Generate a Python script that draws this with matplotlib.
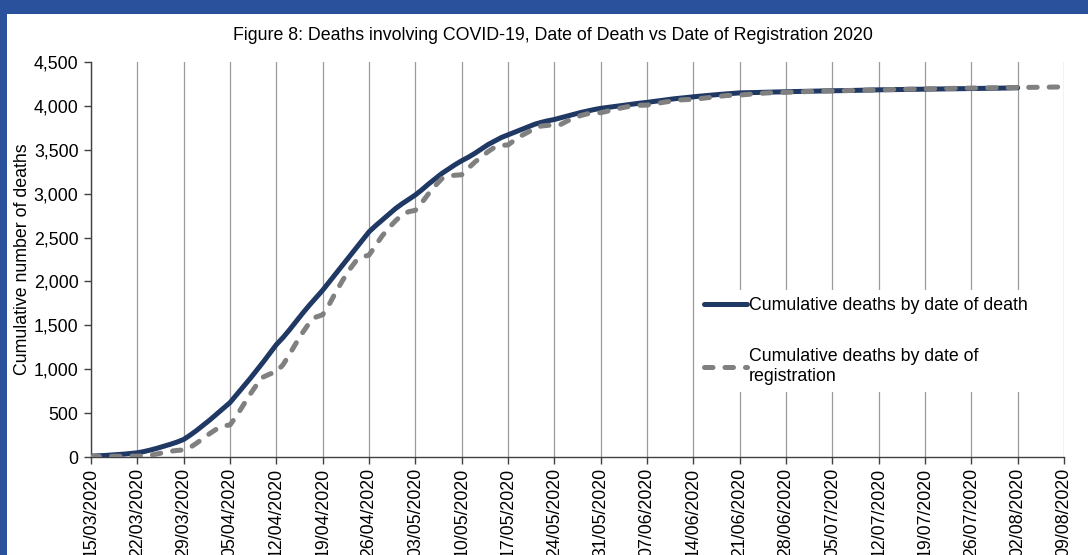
import numpy as np
import matplotlib
matplotlib.use("Agg")
import matplotlib.pyplot as plt
import matplotlib.dates as mdates
from matplotlib.patches import Rectangle

plt.rcParams['font.family'] = ['Liberation Sans', 'DejaVu Sans']

# Daily cumulative deaths, starting 15/03/2020
start = np.datetime64('2020-03-15')

deaths_by_occurrence = [
    10, 13, 17, 22, 27, 33, 40, 48,
    62, 80, 100, 122, 145, 170, 200,
    250, 305, 365, 425, 490, 555, 620,
    710, 800, 890, 985, 1080, 1180, 1280,
    1360, 1450, 1545, 1640, 1730, 1815, 1900,
    1995, 2090, 2185, 2280, 2375, 2470, 2565,
    2635, 2700, 2765, 2830, 2885, 2935, 2985,
    3045, 3110, 3170, 3230, 3280, 3330, 3375,
    3415, 3460, 3510, 3560, 3600, 3640, 3670,
    3700, 3730, 3760, 3790, 3812, 3830, 3845,
    3865, 3885, 3905, 3925, 3942, 3958, 3972,
    3982, 3992, 4003, 4013, 4022, 4032, 4040,
    4050, 4060, 4070, 4080, 4088, 4096, 4104,
    4111, 4118, 4125, 4131, 4137, 4143, 4148,
    4150, 4152, 4154, 4156, 4158, 4159, 4161,
    4163, 4164, 4166, 4168, 4169, 4171, 4172,
    4173, 4175, 4176, 4178, 4179, 4181, 4183,
    4184, 4185, 4186, 4187, 4188, 4189, 4190,
    4191, 4192, 4194, 4195, 4196, 4197, 4198,
    4199, 4200, 4201, 4202, 4203, 4205, 4206,
]

deaths_by_registration = [
    5, 6, 7, 8, 9, 10, 10, 10,
    12, 20, 35, 50, 65, 75, 80,
    110, 160, 215, 270, 320, 355, 365,
    470, 590, 710, 820, 910, 945, 970,
    1050, 1170, 1300, 1420, 1530, 1595, 1620,
    1740, 1880, 2010, 2130, 2230, 2280, 2300,
    2410, 2520, 2610, 2690, 2760, 2795, 2810,
    2900, 3000, 3090, 3170, 3200, 3210, 3215,
    3290, 3360, 3420, 3480, 3530, 3550, 3555,
    3610, 3660, 3700, 3740, 3770, 3778, 3782,
    3790, 3830, 3860, 3890, 3910, 3918, 3922,
    3940, 3958, 3975, 3990, 4002, 4007, 4009,
    4022, 4035, 4047, 4058, 4068, 4072, 4074,
    4083, 4093, 4102, 4110, 4118, 4121, 4123,
    4130, 4136, 4142, 4147, 4151, 4153, 4154,
    4157, 4160, 4163, 4166, 4168, 4169, 4170,
    4172, 4174, 4176, 4178, 4180, 4181, 4182,
    4184, 4186, 4188, 4190, 4191, 4192, 4192,
    4194, 4196, 4198, 4200, 4201, 4202, 4202,
    4204, 4206, 4207, 4208, 4209, 4210, 4210,
    4211, 4212, 4213, 4214, 4215, 4215, 4215,
]

label_death = 'Cumulative deaths by date of death'
label_reg = 'Cumulative deaths by date of\nregistration'
title = 'Figure 8: Deaths involving COVID-19, Date of Death vs Date of Registration 2020'

dates_occ = start + np.arange(len(deaths_by_occurrence))
dates_reg = start + np.arange(len(deaths_by_registration))
week_ticks = np.arange(start, np.datetime64('2020-08-16'), 7)

fig = plt.figure(figsize=(10.88, 5.55), dpi=100, facecolor='#2A519B')
# white panel inside the blue frame, kept behind the axes
panel = Rectangle((7 / 1088, 0), 1, 1 - 14 / 555, transform=fig.transFigure,
                  facecolor='white', edgecolor='none')
panel.set_zorder(-10)
fig.add_artist(panel)

ax = fig.add_axes([91 / 1088, 1 - 457 / 555, 973 / 1088, 395 / 555])
ax.set_zorder(1)
ax.set_facecolor('white')

ax.plot(dates_occ, deaths_by_occurrence, color='#1F3864', lw=3.6,
        solid_capstyle='round', label=label_death, zorder=3)
ax.plot(dates_reg, deaths_by_registration, color='#808080', lw=3.6,
        dashes=(1.7, 2.4), dash_capstyle='round', label=label_reg, zorder=3)

ax.set_xlim(week_ticks[0], week_ticks[-1])
ax.set_ylim(0, 4500)
ax.set_yticks(np.arange(0, 4501, 500))
ax.yaxis.set_major_formatter(matplotlib.ticker.StrMethodFormatter('{x:,.0f}'))
ax.set_xticks(week_ticks)
ax.xaxis.set_major_formatter(mdates.DateFormatter('%d/%m/%Y'))
ax.tick_params(axis='x', rotation=90, labelsize=12.8, length=5, width=1, color='#404040', pad=3)
ax.tick_params(axis='y', labelsize=12.8, length=5, width=1, color='#404040', pad=4)
for lab in ax.get_xticklabels():
    lab.set_verticalalignment('top')

ax.grid(axis='x', color='#9A9A9A', lw=0.9)
ax.grid(axis='y', visible=False)
for side in ['top', 'right']:
    ax.spines[side].set_visible(False)
for side in ['left', 'bottom']:
    ax.spines[side].set_color('#404040')
    ax.spines[side].set_linewidth(1)

ax.set_ylabel('Cumulative number of deaths', fontsize=12.8, labelpad=2)
fig.text(553 / 1088, 1 - 35 / 555, title, ha='center', va='center', fontsize=12.8)

leg = ax.legend(loc='upper left', bbox_to_anchor=(0.614, 0.445), fontsize=12.8,
                frameon=True, facecolor='white', edgecolor='none', framealpha=1,
                handlelength=2.4, handletextpad=0.12, labelspacing=1.9,
                borderpad=0.4, fancybox=False)
leg.set_zorder(4)

fig.savefig('out.png', dpi=100, facecolor=fig.get_facecolor())
